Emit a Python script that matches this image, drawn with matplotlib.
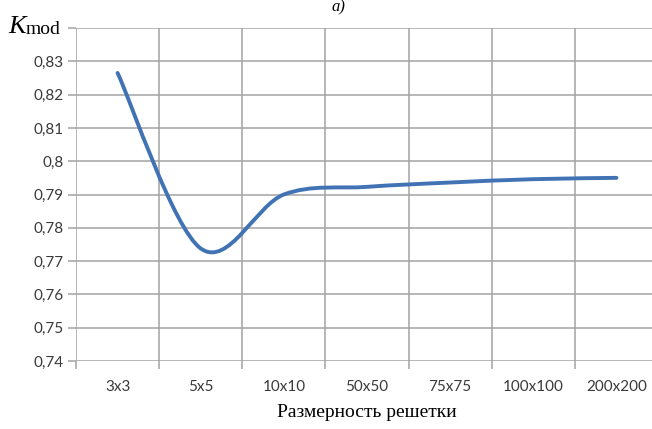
import numpy as np
import matplotlib
matplotlib.use('Agg')
import matplotlib.pyplot as plt
from matplotlib.path import Path
from matplotlib.patches import PathPatch

categories = ['3x3', '5x5', '10x10', '50x50', '75x75', '100x100', '200x200']
k_mod = [0.8265, 0.7738, 0.7900, 0.7923, 0.7936, 0.7946, 0.7950]
y_ticks = [0.74, 0.75, 0.76, 0.77, 0.78, 0.79, 0.80, 0.81, 0.82, 0.83, 0.84]
y_tick_labels = ['0,74', '0,75', '0,76', '0,77', '0,78', '0,79', '0,8',
                 '0,81', '0,82', '0,83', '']

GRID = '#a3a3a3'
TEXT = '#3a3a3a'
LINE = '#4072b4'


def smooth_path(xs, ys):
    # Excel-like smoothed line: cubic Bezier segments, tangents 1/6 of neighbour span
    pts = np.column_stack([xs, ys])
    padded = np.vstack([pts[0], pts, pts[-1]])
    verts = [pts[0]]
    codes = [Path.MOVETO]
    for i in range(len(pts) - 1):
        p0, p1, p2, p3 = padded[i], padded[i + 1], padded[i + 2], padded[i + 3]
        verts += [p1 + (p2 - p0) / 6, p2 - (p3 - p1) / 6, p2]
        codes += [Path.CURVE4] * 3
    return Path(verts, codes)


fig = plt.figure(figsize=(6.52, 4.29), dpi=100)
W, H = 652, 429
ax = fig.add_axes([76 / W, 1 - 361 / H, 582 / W, 333 / H])

x = np.arange(len(categories)) + 0.5
ax.add_patch(PathPatch(smooth_path(x, k_mod), fill=False, edgecolor=LINE,
                       linewidth=2.8, capstyle='round', zorder=3))

ax.set_xlim(0, len(categories))
ax.set_ylim(0.74, 0.84)

ax.set_xticks(np.arange(len(categories) + 1))
ax.set_xticklabels([])
ax.set_xticks(x, minor=True)
ax.set_xticklabels(categories, minor=True, fontfamily='Lato', fontsize=11, color=TEXT)
ax.tick_params(axis='x', which='minor', length=0, pad=14)
ax.tick_params(axis='x', which='major', length=6, width=1.1, color=GRID)

ax.set_yticks(y_ticks)
ax.set_yticklabels(y_tick_labels, fontfamily='Lato', fontsize=11, color=TEXT)
ax.tick_params(axis='y', length=6, width=1.1, color=GRID, pad=3)

ax.grid(True, which='major', color=GRID, linewidth=1.1)
ax.set_axisbelow(True)
for s in ax.spines.values():
    s.set_visible(False)

ax.set_xlabel('Размерность решетки', fontfamily='Liberation Serif', fontsize=14,
              color='black', labelpad=7)

fig.text(8 / W, 1 - 33 / H, 'K', fontfamily='Liberation Serif', fontstyle='italic',
         fontsize=19, va='baseline', ha='left')
fig.text(26 / W, 1 - 34 / H, 'mod', fontfamily='Liberation Serif',
         fontsize=14, va='baseline', ha='left')
fig.text(332 / W, 1 - 11 / H, 'a)', fontfamily='Liberation Serif', fontstyle='italic',
         fontsize=12, va='baseline', ha='left')

fig.savefig('out.png', dpi=100)
